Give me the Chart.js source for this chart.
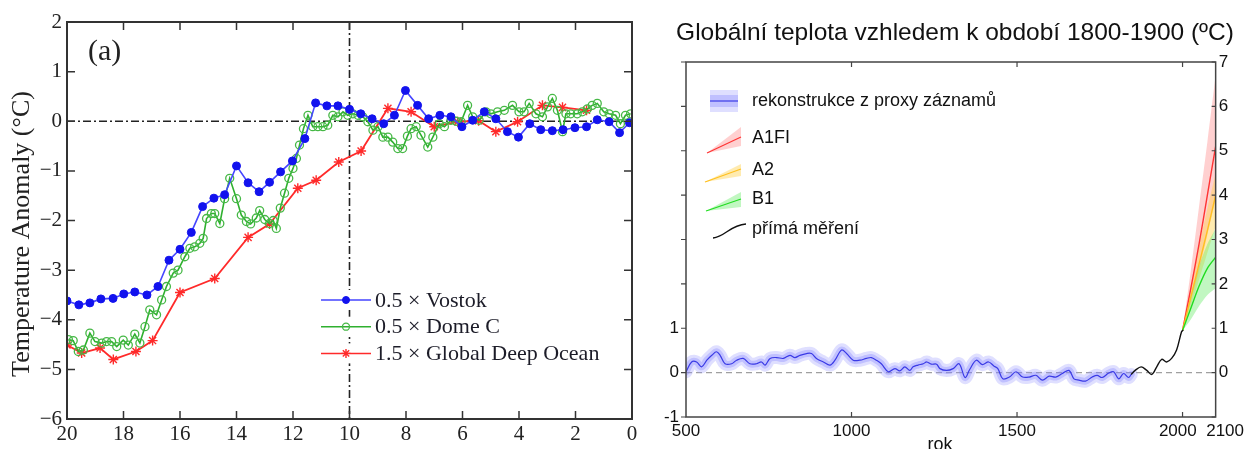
<!DOCTYPE html>
<html>
<head>
<meta charset="utf-8">
<script src="https://cdn.jsdelivr.net/npm/chart.js@4.4.1/dist/chart.umd.min.js"></script>
<style>
  body { margin: 0; background: #fff; }
  #wrap { position: relative; width: 1248px; height: 449px; overflow: hidden; background: #fff; }
  #leftChart { position: absolute; left: 0; top: 0; }
  #rightChart { position: absolute; left: 645px; top: 0; }
</style>
</head>
<body>
<div id="wrap">
  <canvas id="leftChart" width="645" height="449"></canvas>
  <canvas id="rightChart" width="603" height="449"></canvas>
</div>
<script>
// left panel: age in ka before present, anomaly in °C
const vostokAge = [20.0, 19.58, 19.19, 18.8, 18.37, 17.99, 17.6, 17.17, 16.78, 16.39,
  16.0, 15.6, 15.2, 14.8, 14.42, 14.0, 13.59, 13.2, 12.83, 12.44,
  12.02, 11.58, 11.2, 10.8, 10.41, 10.0, 9.6, 9.2, 8.79, 8.41,
  8.02, 7.59, 7.2, 6.8, 6.41, 6.02, 5.64, 5.23, 4.82, 4.41,
  4.02, 3.62, 3.23, 2.82, 2.44, 2.02, 1.61, 1.23, 0.81, 0.44, 0.09];
const vostokTemp = [-3.62, -3.70, -3.66, -3.58, -3.57, -3.48, -3.44, -3.50, -3.33, -2.80,
  -2.58, -2.24, -1.72, -1.55, -1.48, -0.90, -1.24, -1.42, -1.23, -1.02,
  -0.80, -0.35, 0.37, 0.31, 0.31, 0.24, 0.15, 0.05, -0.05, 0.12,
  0.62, 0.32, 0.05, 0.12, 0.09, -0.11, 0.02, 0.19, 0.05, -0.21,
  -0.32, -0.05, -0.17, -0.19, -0.17, -0.13, -0.11, 0.03, -0.01, -0.23, -0.03];

const domeAge = [19.95, 19.78, 19.6, 19.42, 19.19, 19.01, 18.77, 18.6, 18.42, 18.24,
  18.01, 17.83, 17.6, 17.42, 17.24, 17.07, 16.83, 16.65, 16.48, 16.24,
  16.07, 15.83, 15.65, 15.48, 15.3, 15.18, 15.06, 14.89, 14.77, 14.59,
  14.42, 14.24, 14.0, 13.83, 13.65, 13.5, 13.3, 13.18, 13.0, 12.83,
  12.7, 12.59, 12.45, 12.3, 12.15, 12.0, 11.88, 11.77, 11.63, 11.47,
  11.3, 11.12, 10.94, 10.77, 10.59, 10.41, 10.23, 10.06, 9.88, 9.7,
  9.53, 9.35, 9.17, 8.99, 8.82, 8.64, 8.47, 8.29, 8.12, 7.95,
  7.82, 7.64, 7.47, 7.23, 7.05, 6.82, 6.64, 6.41, 6.23, 6.05,
  5.82, 5.64, 5.41, 5.17, 5.0, 4.76, 4.52, 4.23, 4.0, 3.82,
  3.64, 3.4, 3.17, 2.99, 2.82, 2.64, 2.46, 2.34, 2.17, 1.94,
  1.76, 1.58, 1.41, 1.23, 1.0, 0.81, 0.58, 0.41, 0.23, 0.05];
const domeTemp = [-4.40, -4.42, -4.64, -4.61, -4.27, -4.44, -4.47, -4.44, -4.44, -4.54,
  -4.41, -4.51, -4.29, -4.47, -4.14, -3.80, -3.90, -3.60, -3.33, -3.06,
  -3.00, -2.73, -2.56, -2.53, -2.46, -2.36, -1.96, -1.86, -1.86, -2.06,
  -1.56, -1.15, -1.56, -1.89, -2.02, -2.07, -1.95, -1.80, -1.98, -2.06,
  -2.00, -2.16, -1.75, -1.45, -1.15, -0.95, -0.75, -0.48, -0.15, 0.12,
  -0.11, -0.11, -0.11, -0.08, 0.12, 0.09, 0.19, 0.12, 0.15, 0.12,
  0.09, -0.01, -0.18, -0.11, -0.32, -0.32, -0.42, -0.55, -0.55, -0.30,
  -0.15, -0.11, -0.28, -0.52, -0.32, -0.05, -0.11, 0.02, 0.00, -0.01,
  0.32, 0.09, 0.02, 0.19, 0.15, 0.19, 0.22, 0.32, 0.19, 0.19,
  0.36, 0.15, 0.09, 0.29, 0.46, 0.22, -0.21, 0.15, 0.15, 0.15,
  0.19, 0.25, 0.32, 0.36, 0.19, 0.15, 0.12, -0.05, 0.12, 0.15];

const oceanAge = [20.0, 19.48, 18.83, 18.36, 17.56, 16.97, 16.0, 14.77, 13.59, 12.83,
  11.83, 11.18, 10.38, 9.59, 8.64, 7.82, 7.0, 6.17, 5.43, 4.82,
  4.05, 3.17, 2.46, 1.61];
const oceanTemp = [-4.51, -4.67, -4.57, -4.80, -4.64, -4.42, -3.45, -3.17, -2.34, -2.07,
  -1.35, -1.19, -0.82, -0.60, 0.26, 0.19, -0.11, -0.01, 0.01, -0.21,
  -0.01, 0.32, 0.28, 0.22];

const leftLabels = ['0.5 \u00d7 Vostok', '0.5 \u00d7 Dome C', '1.5 \u00d7 Global Deep Ocean'];

// right panel: year, anomaly vs 1800-1900 in °C
const proxyYear = [500, 517, 532, 547, 563, 578, 592, 603, 618, 638,
  653, 673, 693, 713, 728, 739, 754, 774, 794, 814,
  829, 844, 864, 879, 894, 915, 935, 950, 970, 985,
  1005, 1025, 1045, 1060, 1075, 1090, 1111, 1131, 1146, 1161,
  1176, 1186, 1201, 1217, 1227, 1241, 1257, 1267, 1287, 1307,
  1325, 1343, 1357, 1377, 1395, 1414, 1430, 1442, 1457, 1477,
  1497, 1517, 1537, 1557, 1577, 1597, 1617, 1637, 1657, 1672,
  1687, 1707, 1727, 1742, 1757, 1777, 1792, 1807, 1822, 1837,
  1845];
const proxyTemp = [0.02, 0.24, 0.24, 0.13, 0.28, 0.39, 0.47, 0.39, 0.20, 0.20,
  0.28, 0.32, 0.20, 0.20, 0.24, 0.17, 0.32, 0.34, 0.32, 0.39,
  0.34, 0.39, 0.43, 0.43, 0.32, 0.24, 0.17, 0.28, 0.51, 0.43,
  0.28, 0.28, 0.32, 0.34, 0.28, 0.20, 0.02, 0.09, 0.04, 0.13,
  0.05, 0.13, 0.17, 0.20, 0.24, 0.19, 0.19, 0.09, 0.05, 0.09,
  0.20, -0.11, 0.07, 0.28, 0.18, 0.24, 0.15, 0.09, -0.14, -0.10,
  0.02, -0.10, -0.10, -0.06, -0.17, -0.08, -0.10, -0.02, 0.05, -0.14,
  -0.17, -0.19, -0.10, -0.06, -0.11, -0.01, 0.02, -0.14, -0.02, -0.11,
  -0.04];

const measYear = [1845, 1857, 1875, 1892, 1907, 1922, 1937, 1952, 1967, 1982, 1997, 2002];
const measTemp = [-0.04, 0.05, 0.13, 0.05, -0.04, 0.13, 0.30, 0.24, 0.32, 0.51, 0.92, 0.96];

const scenarioYear = [2000, 2025, 2050, 2075, 2100];
const a1fiMid = [0.95, 1.9, 2.9, 4.0, 5.1];
const a1fiHigh = [0.95, 2.3, 3.75, 5.2, 6.7];
const a1fiLow = [0.95, 1.6, 2.3, 3.1, 3.9];
const a2Mid = [0.95, 1.7, 2.45, 3.2, 4.0];
const a2High = [0.95, 1.9, 2.85, 3.7, 4.5];
const a2Low = [0.95, 1.5, 2.1, 2.7, 3.3];
const b1Mid = [0.95, 1.45, 1.95, 2.35, 2.6];
const b1High = [0.95, 1.75, 2.4, 2.9, 3.25];
const b1Low = [0.95, 1.2, 1.5, 1.75, 1.9];

const rightXTicks = [500, 1000, 1500, 2000, 2100];
const rightXLabels = ['500', '1000', '1500', '2000  ', '    2100'];
const rightTitle = 'Globální teplota vzhledem k období 1800-1900 (ºC)';
const rightLegend = ['rekonstrukce z proxy záznamů', 'A1FI', 'A2', 'B1', 'přímá měření'];

function pairs(xs, ys) {
  return xs.map((x, i) => ({ x: x, y: ys[i] }));
}

const serif = "'Liberation Serif', 'Times New Roman', serif";
const sans = "'Liberation Sans', Arial, sans-serif";

// ---------- left chart ----------
const leftDecor = {
  id: 'leftDecor',
  beforeDatasetsDraw(chart) {
    const { ctx, chartArea: a, scales } = chart;
    const y0 = scales.y.getPixelForValue(0);
    const x10 = scales.x.getPixelForValue(10);
    ctx.save();
    ctx.strokeStyle = '#222';
    ctx.lineWidth = 1.6;
    ctx.setLineDash([8, 3, 2, 3]);
    ctx.beginPath();
    ctx.moveTo(a.left, y0);
    ctx.lineTo(a.right, y0);
    ctx.moveTo(x10, a.top);
    ctx.lineTo(x10, a.bottom);
    ctx.stroke();
    ctx.restore();
  },
  afterDraw(chart) {
    const { ctx, chartArea: a, scales } = chart;
    ctx.save();
    ctx.strokeStyle = '#333';
    ctx.lineWidth = 2;
    ctx.strokeRect(a.left, a.top, a.right - a.left, a.bottom - a.top);
    ctx.lineWidth = 1.5;
    ctx.beginPath();
    scales.x.ticks.forEach((t) => {
      const px = scales.x.getPixelForValue(t.value);
      ctx.moveTo(px, a.bottom);
      ctx.lineTo(px, a.bottom - 8);
      ctx.moveTo(px, a.top);
      ctx.lineTo(px, a.top + 8);
    });
    scales.y.ticks.forEach((t) => {
      const py = scales.y.getPixelForValue(t.value);
      ctx.moveTo(a.left, py);
      ctx.lineTo(a.left + 8, py);
      ctx.moveTo(a.right, py);
      ctx.lineTo(a.right - 8, py);
    });
    ctx.stroke();

    ctx.fillStyle = '#222';
    ctx.font = '30px ' + serif;
    ctx.textBaseline = 'middle';
    ctx.textAlign = 'left';
    ctx.fillText('(a)', 88, 52);

    ctx.save();
    ctx.translate(22, 234);
    ctx.rotate(-Math.PI / 2);
    ctx.textAlign = 'center';
    ctx.font = '26px ' + serif;
    ctx.fillText('Temperature Anomaly (°C)', 0, 0);
    ctx.restore();

    // legend
    ctx.font = '22px ' + serif;
    chart.data.datasets.forEach((ds, i) => {
      const y = 300 + i * 26.7;
      ctx.fillStyle = '#fff';
      ctx.fillRect(318, y - 10, 290, 20);
      ctx.strokeStyle = ds.borderColor;
      ctx.lineWidth = 1.5;
      ctx.setLineDash([]);
      ctx.beginPath();
      ctx.moveTo(321, y);
      ctx.lineTo(371, y);
      ctx.stroke();
      ctx.fillStyle = ds.pointBackgroundColor;
      ctx.strokeStyle = ds.pointBorderColor;
      ctx.lineWidth = ds.pointBorderWidth;
      Chart.helpers.drawPoint(ctx, { pointStyle: ds.pointStyle, radius: ds.pointRadius - 0.5, borderWidth: ds.pointBorderWidth, rotation: 0 }, 346, y);
      ctx.fillStyle = '#1c1c28';
      ctx.textAlign = 'left';
      ctx.fillText(leftLabels[i], 375, y + 1);
    });
    ctx.restore();
  }
};

const minusFmt = (v) => (v < 0 ? '\u2212' + Math.abs(v) : String(v));

new Chart(document.getElementById('leftChart'), {
  type: 'line',
  data: {
    datasets: [
      {
        label: leftLabels[0],
        data: pairs(vostokAge, vostokTemp),
        borderColor: '#4545ff',
        borderWidth: 1.6,
        pointStyle: 'circle',
        pointRadius: 4,
        pointBackgroundColor: '#1212ee',
        pointBorderColor: '#1212ee',
        pointBorderWidth: 1
      },
      {
        label: leftLabels[1],
        data: pairs(domeAge, domeTemp),
        borderColor: '#2fb02f',
        borderWidth: 1.6,
        pointStyle: 'circle',
        pointRadius: 4,
        pointBackgroundColor: 'rgba(0,0,0,0)',
        pointBorderColor: '#46b846',
        pointBorderWidth: 1.3
      },
      {
        label: leftLabels[2],
        data: pairs(oceanAge, oceanTemp),
        borderColor: '#ff2a2a',
        borderWidth: 1.8,
        pointStyle: 'star',
        pointRadius: 5,
        pointBackgroundColor: '#ff2a2a',
        pointBorderColor: '#ff2a2a',
        pointBorderWidth: 1.4
      }
    ]
  },
  options: {
    responsive: false,
    animation: false,
    layout: { padding: { top: 22, right: 13, left: 0, bottom: 0 } },
    plugins: { legend: { display: false }, tooltip: { enabled: false } },
    scales: {
      x: {
        type: 'linear',
        reverse: true,
        min: 0,
        max: 20,
        grid: { display: false, drawTicks: false },
        border: { display: false },
        ticks: { stepSize: 2, padding: 3, maxRotation: 0, color: '#222', font: { family: serif, size: 21 } },
        afterFit: (s) => { s.height = 30; }
      },
      y: {
        type: 'linear',
        min: -6,
        max: 2,
        grid: { display: false, drawTicks: false },
        border: { display: false },
        ticks: { stepSize: 1, padding: 5, color: '#222', font: { family: serif, size: 21 }, callback: minusFmt },
        afterFit: (s) => { s.width = 67; }
      }
    }
  },
  plugins: [leftDecor]
});

// ---------- right chart ----------
const rightDecor = {
  id: 'rightDecor',
  beforeDatasetsDraw(chart) {
    const { ctx, chartArea: a, scales } = chart;
    const y0 = scales.y.getPixelForValue(0);
    ctx.save();
    ctx.strokeStyle = '#a0a0a0';
    ctx.lineWidth = 1.2;
    ctx.setLineDash([6, 4]);
    ctx.beginPath();
    ctx.moveTo(a.left, y0);
    ctx.lineTo(a.right, y0);
    ctx.stroke();
    ctx.restore();
  },
  afterDraw(chart) {
    const { ctx, chartArea: a, scales } = chart;
    ctx.save();
    ctx.strokeStyle = '#444';
    ctx.lineWidth = 1.5;
    ctx.strokeRect(a.left, a.top, a.right - a.left, a.bottom - a.top);
    ctx.lineWidth = 1.2;
    ctx.beginPath();
    rightXTicks.slice(1, 4).forEach((v) => {
      const px = scales.x.getPixelForValue(v);
      ctx.moveTo(px, a.bottom);
      ctx.lineTo(px, a.bottom - 5);
      ctx.moveTo(px, a.top);
      ctx.lineTo(px, a.top + 5);
    });
    scales.y.ticks.forEach((t) => {
      const py = scales.y.getPixelForValue(t.value);
      ctx.moveTo(a.left, py);
      ctx.lineTo(a.left - 5, py);
      ctx.moveTo(a.right, py);
      ctx.lineTo(a.right - 4, py);
    });
    ctx.stroke();

    ctx.fillStyle = '#111';
    ctx.textAlign = 'center';
    ctx.textBaseline = 'middle';
    ctx.font = '24.5px ' + sans;
    ctx.fillText(rightTitle, 310, 33);

    ctx.textBaseline = 'alphabetic';
    ctx.font = '18px ' + sans;
    ctx.fillText('rok', 295, 450);

    // legend (canvas x = page x - 645)
    const bands = [
      { c: 'rgba(255,120,120,0.35)', l: '#ff3333', x0: 62, y0: 153, y1: 127, ym: 137, y2: 146 },
      { c: 'rgba(255,210,80,0.45)', l: '#ffc020', x0: 60, y0: 182, y1: 164, ym: 169, y2: 176 },
      { c: 'rgba(100,235,100,0.4)', l: '#22dd22', x0: 61, y0: 211, y1: 192, ym: 199, y2: 207 }
    ];
    ctx.fillStyle = 'rgba(150,150,255,0.3)';
    ctx.fillRect(65, 90, 28, 22);
    ctx.fillStyle = 'rgba(120,120,255,0.3)';
    ctx.fillRect(65, 95, 28, 12);
    ctx.strokeStyle = '#3a3ae6';
    ctx.lineWidth = 1.2;
    ctx.beginPath();
    ctx.moveTo(65, 101);
    ctx.lineTo(93, 101);
    ctx.stroke();
    bands.forEach((b) => {
      ctx.fillStyle = b.c;
      ctx.beginPath();
      ctx.moveTo(b.x0, b.y0);
      ctx.lineTo(96, b.y1);
      ctx.lineTo(96, b.y2);
      ctx.closePath();
      ctx.fill();
      ctx.strokeStyle = b.l;
      ctx.lineWidth = 1.3;
      ctx.beginPath();
      ctx.moveTo(b.x0, b.y0);
      ctx.lineTo(96, b.ym);
      ctx.stroke();
    });
    ctx.strokeStyle = '#111';
    ctx.lineWidth = 1.4;
    ctx.beginPath();
    ctx.moveTo(68, 238);
    ctx.bezierCurveTo(80, 237, 85, 225, 101, 224);
    ctx.stroke();

    ctx.fillStyle = '#111';
    ctx.textAlign = 'left';
    ctx.textBaseline = 'middle';
    ctx.font = '18px ' + sans;
    const ys = [101, 138, 170, 199, 229];
    rightLegend.forEach((t, i) => ctx.fillText(t, 107, ys[i]));
    ctx.restore();
  }
};

const bandLine = (w, c) => ({
  data: pairs(proxyYear, proxyTemp),
  borderColor: c,
  borderWidth: w,
  borderJoinStyle: 'round',
  borderCapStyle: 'round',
  pointRadius: 0,
  tension: 0.35
});

new Chart(document.getElementById('rightChart'), {
  type: 'line',
  data: {
    datasets: [
      Object.assign(bandLine(13, 'rgba(150,150,255,0.3)'), { order: 12 }),
      Object.assign(bandLine(7, 'rgba(120,120,255,0.3)'), { order: 11 }),
      Object.assign(bandLine(1.2, '#3a3ae6'), { order: 10 }),
      { data: pairs(scenarioYear, a1fiHigh), borderWidth: 0, pointRadius: 0, tension: 0.3, fill: '+1', backgroundColor: 'rgba(255,120,120,0.35)', order: 9 },
      { data: pairs(scenarioYear, a1fiLow), borderWidth: 0, pointRadius: 0, tension: 0.3, order: 9 },
      { data: pairs(scenarioYear, a2High), borderWidth: 0, pointRadius: 0, tension: 0.3, fill: '+1', backgroundColor: 'rgba(255,210,80,0.45)', order: 8 },
      { data: pairs(scenarioYear, a2Low), borderWidth: 0, pointRadius: 0, tension: 0.3, order: 8 },
      { data: pairs(scenarioYear, b1High), borderWidth: 0, pointRadius: 0, tension: 0.3, fill: '+1', backgroundColor: 'rgba(100,235,100,0.4)', order: 7 },
      { data: pairs(scenarioYear, b1Low), borderWidth: 0, pointRadius: 0, tension: 0.3, order: 7 },
      { data: pairs(scenarioYear, a1fiMid), borderColor: '#ff3333', borderWidth: 1.4, pointRadius: 0, tension: 0.3, order: 4 },
      { data: pairs(scenarioYear, a2Mid), borderColor: '#ffc020', borderWidth: 1.4, pointRadius: 0, tension: 0.3, order: 3 },
      { data: pairs(scenarioYear, b1Mid), borderColor: '#22dd22', borderWidth: 1.4, pointRadius: 0, tension: 0.3, order: 2 },
      { data: pairs(measYear, measTemp), borderColor: '#111', borderWidth: 1.4, pointRadius: 0, tension: 0.35, order: 1 }
    ]
  },
  options: {
    responsive: false,
    animation: false,
    layout: { padding: { top: 62, right: 0, left: 0, bottom: 0 } },
    plugins: { legend: { display: false }, tooltip: { enabled: false } },
    scales: {
      x: {
        type: 'linear',
        min: 500,
        max: 2100,
        grid: { display: false, drawTicks: false },
        border: { display: false },
        afterBuildTicks: (s) => { s.ticks = rightXTicks.map((v) => ({ value: v })); },
        ticks: {
          autoSkip: false, maxRotation: 0, padding: 4, color: '#111', font: { family: sans, size: 17 },
          callback: (v) => rightXLabels[rightXTicks.indexOf(v)]
        },
        afterFit: (s) => { s.height = 32; }
      },
      y: {
        type: 'linear',
        position: 'left',
        min: -1,
        max: 7,
        grid: { display: false, drawTicks: false },
        border: { display: false },
        ticks: { stepSize: 1, padding: 7, color: '#111', font: { family: sans, size: 17 }, callback: (v) => (v <= 1 ? String(v) : '') },
        afterFit: (s) => { s.width = 41; }
      },
      y2: {
        type: 'linear',
        position: 'right',
        min: -1,
        max: 7,
        grid: { display: false, drawTicks: false },
        border: { display: false },
        ticks: { stepSize: 1, padding: 3, color: '#111', font: { family: sans, size: 17 }, callback: (v) => (v >= 0 ? String(v) : '') },
        afterFit: (s) => { s.width = 31; }
      }
    }
  },
  plugins: [rightDecor]
});
</script>
</body>
</html>
